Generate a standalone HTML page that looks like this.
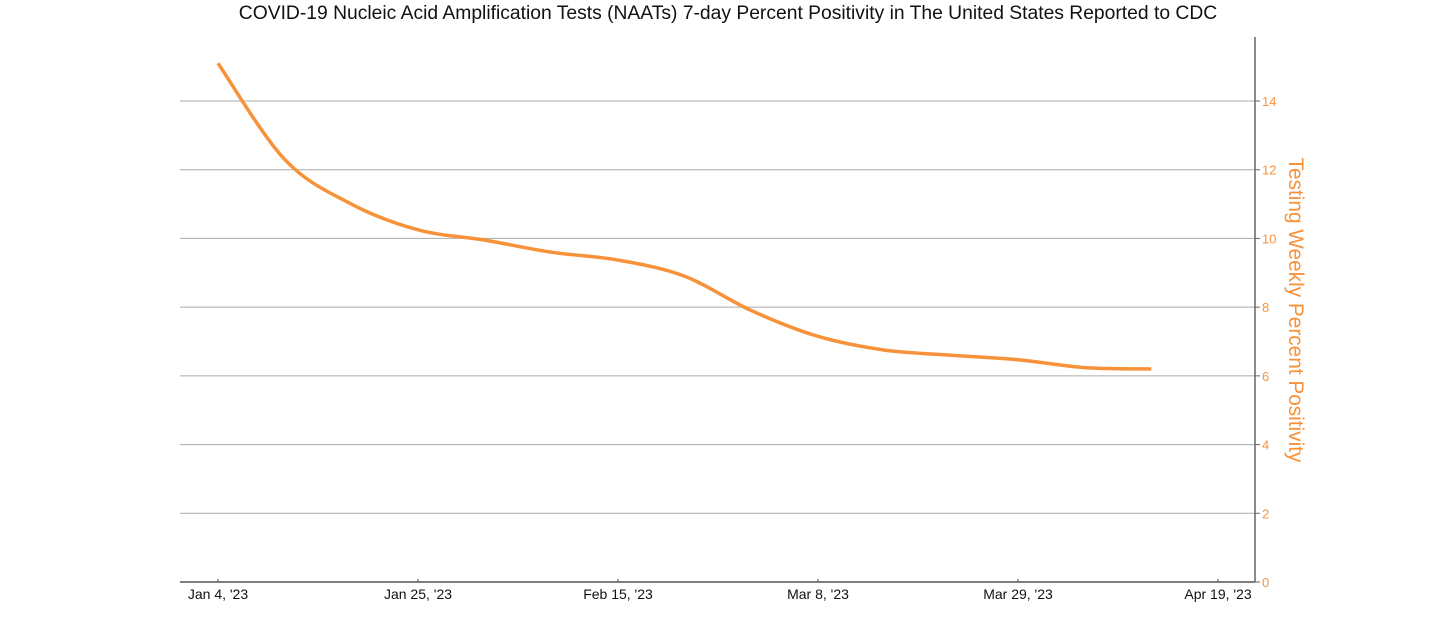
<!DOCTYPE html>
<html><head><meta charset="utf-8"><style>
body{margin:0;background:#fff;width:1456px;height:629px;overflow:hidden;font-family:"Liberation Sans",sans-serif}
</style></head><body>
<svg id="chart" width="1456" height="629" xmlns="http://www.w3.org/2000/svg">
<text x="728" y="19" text-anchor="middle" font-size="19.3" fill="#111" font-family="Liberation Sans, sans-serif">COVID-19 Nucleic Acid Amplification Tests (NAATs) 7-day Percent Positivity in The United States Reported to CDC</text>
<g id="grid"></g><g id="xaxis"></g><g id="yaxis"></g><g id="series"></g>
<text transform="translate(1289,310) rotate(90)" text-anchor="middle" font-size="20.8" fill="#f7923a" font-family="Liberation Sans, sans-serif">Testing Weekly Percent Positivity</text>
</svg>
<script>
const weeks = [0,1,2,3,4,5,6,7,8,9,10,11,12,13,14];
const positivity = [15.1,12.3,11.0,10.25,9.95,9.6,9.37,8.9,7.9,7.15,6.75,6.6,6.47,6.24,6.2];
const yTicks = [0,2,4,6,8,10,12,14];
const xTickLabels = ["Jan 4, '23","Jan 25, '23","Feb 15, '23","Mar 8, '23","Mar 29, '23","Apr 19, '23"];
const xTickWeeks = [0,3,6,9,12,15];
const NS="http://www.w3.org/2000/svg";
const L=180,R=1255,B=582,T=37;
const x=w=>218+w*200/3;
const y=v=>B-v*(582-101)/14;
function mk(t,a,p){const e=document.createElementNS(NS,t);for(const k in a)e.setAttribute(k,a[k]);p.appendChild(e);return e;}
const grid=document.getElementById('grid'),xa=document.getElementById('xaxis'),ya=document.getElementById('yaxis'),se=document.getElementById('series');
yTicks.forEach(v=>{
 if(v>0){const g=mk('line',{x1:L,x2:R,y1:y(v),y2:y(v),stroke:'#aaa','stroke-width':1},grid);
 
 }
 const tk=mk('line',{x1:R,x2:R+5,y1:y(v),y2:y(v),stroke:'#666'},ya);
 
 
 const t=mk('text',{x:R+7,y:y(v)+5,'font-size':13,fill:'#f7923a'},ya);t.textContent=v;
 
 
});
const yl=mk('line',{x1:R,x2:R,y1:T,y2:B,stroke:'#666','stroke-width':1.5},ya);


const xl=mk('line',{x1:L,x2:R,y1:B,y2:B,stroke:'#555','stroke-width':1.5},xa);


xTickLabels.forEach((s,i)=>{
 const tk=mk('line',{x1:x(xTickWeeks[i]),x2:x(xTickWeeks[i]),y1:B-3,y2:B,stroke:'#555'},xa);
 
 
 const t=mk('text',{x:x(xTickWeeks[i]),y:599,'font-size':14,fill:'#111','text-anchor':'middle'},xa);t.textContent=s;
 
 
});
const P=weeks.map((w,i)=>[x(w),y(positivity[i])]);
let d='M'+P[0][0]+','+P[0][1];
for(let i=0;i<P.length-1;i++){const p0=P[i-1]||P[i],p1=P[i],p2=P[i+1],p3=P[i+2]||P[i+1];
 d+=` C${p1[0]+(p2[0]-p0[0])/6},${p1[1]+(p2[1]-p0[1])/6} ${p2[0]-(p3[0]-p1[0])/6},${p2[1]-(p3[1]-p1[1])/6} ${p2[0]},${p2[1]}`;}
const line=mk('path',{d:d,fill:'none',stroke:'#f7923a','stroke-width':3.5},se);


</script>
</body></html>
